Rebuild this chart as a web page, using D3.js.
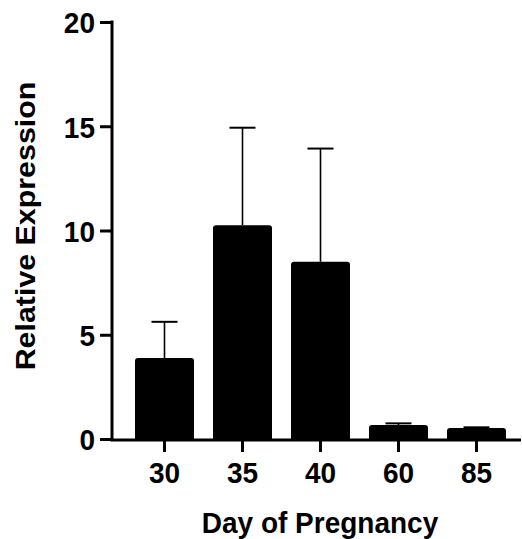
<!DOCTYPE html>
<html><head><meta charset="utf-8">
<script src="https://cdn.jsdelivr.net/npm/d3@7"></script>
<style>html,body{margin:0;padding:0;background:#fff;}svg{display:block;}</style>
</head><body>
<script>
const categories = ["30", "35", "40", "60", "85"];
const means = [3.88, 10.25, 8.5, 0.67, 0.53];
const errors = [1.74, 4.68, 5.43, 0.08, 0.03];
const yTicks = [0, 5, 10, 15, 20];
const xTitle = "Day of Pregnancy";
const yTitle = "Relative Expression";

const W = 522, H = 539;
const svg = d3.select("body").append("svg").attr("width", W).attr("height", H);
const font = "'Liberation Sans', Arial, sans-serif";
const SY = 1.085; // vertical stretch seen in the reference's glyphs

const x = d3.scaleBand().domain(categories).range([125.5, 515.5]).paddingInner(0.2436).paddingOuter(0.1218);
const y = d3.scaleLinear().domain([0, 20]).range([439, 22]);

// bars
svg.append("g").selectAll("path").data(categories).join("path")
  .attr("d", (c, i) => {
    const x0 = x(c), w = x.bandwidth(), yt = y(means[i]), yb = y(0), r = Math.min(3, (yb - yt) / 2);
    return `M${x0},${yb}V${yt + r}Q${x0},${yt} ${x0 + r},${yt}H${x0 + w - r}Q${x0 + w},${yt} ${x0 + w},${yt + r}V${yb}Z`;
  })
  .attr("fill", "#000");

// error bars
const eg = svg.append("g").attr("stroke", "#000").attr("fill", "none");
categories.forEach((c, i) => {
  const cx = x(c) + x.bandwidth() / 2;
  eg.append("line").attr("x1", cx).attr("x2", cx).attr("y1", y(means[i])).attr("y2", y(means[i] + errors[i])).attr("stroke-width", 1.6);
  eg.append("line").attr("x1", cx - 13).attr("x2", cx + 13).attr("y1", y(means[i] + errors[i])).attr("y2", y(means[i] + errors[i])).attr("stroke-width", 2);
});

// y axis
const yAxis = d3.axisLeft(y).tickValues(yTicks).tickSize(12).tickPadding(5).tickSizeOuter(0);
const gy = svg.append("g").attr("transform", "translate(112,0)").call(yAxis);
gy.select(".domain").attr("stroke-width", 3).attr("d", `M0,${y(20) - 1.5}V${y(0) + 1.5}`);
gy.selectAll(".tick line").attr("stroke-width", 3);
gy.selectAll(".tick text").attr("font-family", font).attr("font-weight", "bold").attr("font-size", 28).attr("fill", "#000")
  .attr("dy", null).attr("y", 0).attr("transform", `translate(0,10.9) scale(1,${SY})`);

// x axis
const xAxis = d3.axisBottom(x).tickSize(12).tickPadding(6).tickSizeOuter(0);
const gx = svg.append("g").attr("transform", "translate(0,440)").call(xAxis);
gx.select(".domain").attr("stroke-width", 3).attr("d", `M110.5,0H521`);
gx.selectAll(".tick line").attr("stroke-width", 3);
gx.selectAll(".tick text").attr("font-family", font).attr("font-weight", "bold").attr("font-size", 28).attr("fill", "#000")
  .attr("dy", null).attr("y", 0).attr("transform", `translate(0,43) scale(1,${SY})`);

// titles
svg.append("text").attr("transform", `translate(320,533) scale(1,${SY})`).attr("text-anchor", "middle")
  .attr("font-family", font).attr("font-weight", "bold").attr("font-size", 28).text(xTitle);
svg.append("text").attr("transform", `translate(35,226) rotate(-90) scale(${SY},1)`).attr("text-anchor", "middle")
  .attr("font-family", font).attr("font-weight", "bold").attr("font-size", 28).text(yTitle);
</script>
</body></html>
